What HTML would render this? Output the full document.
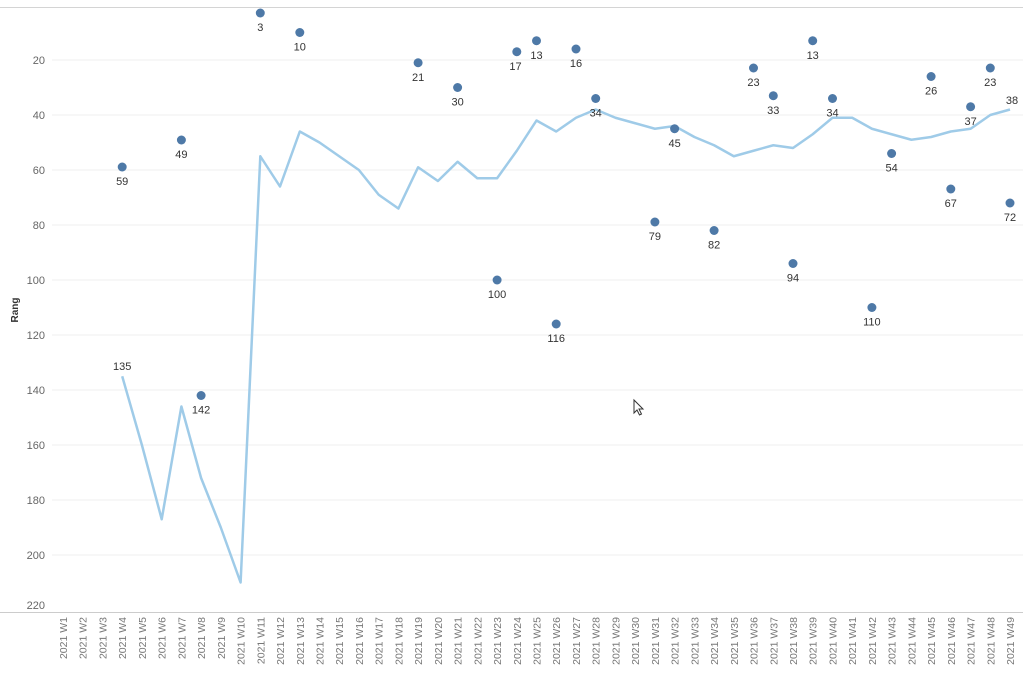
<!DOCTYPE html>
<html><head><meta charset="utf-8"><style>
html,body{margin:0;padding:0;background:#fff;}
svg{display:block;font-family:"Liberation Sans",sans-serif;}
.yt{font-size:11px;fill:#666;text-anchor:end;}
.xt{font-size:10.5px;fill:#777;text-anchor:end;}
.dl{font-size:11px;fill:#333;text-anchor:middle;}
.g{stroke:#efefef;stroke-width:1;}
</style></head><body>
<svg width="1023" height="684" viewBox="0 0 1023 684">
<line x1="0" y1="7.5" x2="1023" y2="7.5" stroke="#d4d4d4"/>
<g class="g">
<line x1="52" y1="60" x2="1023" y2="60"/><line x1="52" y1="115" x2="1023" y2="115"/>
<line x1="52" y1="170" x2="1023" y2="170"/><line x1="52" y1="225" x2="1023" y2="225"/>
<line x1="52" y1="280" x2="1023" y2="280"/><line x1="52" y1="335" x2="1023" y2="335"/>
<line x1="52" y1="390" x2="1023" y2="390"/><line x1="52" y1="445" x2="1023" y2="445"/>
<line x1="52" y1="500" x2="1023" y2="500"/><line x1="52" y1="555" x2="1023" y2="555"/>
</g>
<line x1="0" y1="612.5" x2="1023" y2="612.5" stroke="#ccc"/>
<g class="yt">
<text x="45" y="64">20</text><text x="45" y="119">40</text><text x="45" y="174">60</text>
<text x="45" y="229">80</text><text x="45" y="284">100</text><text x="45" y="339">120</text>
<text x="45" y="394">140</text><text x="45" y="449">160</text><text x="45" y="504">180</text>
<text x="45" y="559">200</text><text x="45" y="609">220</text>
</g>
<text transform="translate(18,310) rotate(-90)" font-size="10" font-weight="bold" fill="#333" text-anchor="middle">Rang</text>
<polyline fill="none" stroke="#9fcbe8" stroke-width="2.5" stroke-linejoin="round" points="122.2,376.25 141.9,445 161.7,519.25 181.4,406.5 201.1,478 220.8,527.5 240.6,582.5 260.3,156.25 280,186.5 299.8,131.5 319.5,142.5 339.2,156.25 358.9,170 378.7,194.75 398.4,208.5 418.1,167.25 437.9,181 457.6,161.75 477.3,178.25 497.1,178.25 516.8,150.75 536.5,120.5 556.2,131.5 576,117.75 595.7,109.5 615.4,117.75 635.2,123.25 654.9,128.75 674.6,126 694.4,137 714.1,145.25 733.8,156.25 753.5,150.75 773.3,145.25 793,148 812.7,134.25 832.5,117.75 852.2,117.75 871.9,128.75 891.6,134.25 911.4,139.75 931.1,137 950.8,131.5 970.6,128.75 990.3,115 1010,109.5"/>
<g fill="#4e79a7">
<circle cx="122.2" cy="167" r="4.5"/><circle cx="181.4" cy="140" r="4.5"/><circle cx="201.1" cy="395.5" r="4.5"/>
<circle cx="260.3" cy="13" r="4.5"/><circle cx="299.8" cy="32.5" r="4.5"/><circle cx="418.1" cy="62.75" r="4.5"/>
<circle cx="457.6" cy="87.5" r="4.5"/><circle cx="497.1" cy="280" r="4.5"/><circle cx="516.8" cy="51.75" r="4.5"/>
<circle cx="536.5" cy="40.75" r="4.5"/><circle cx="556.2" cy="324" r="4.5"/><circle cx="576" cy="49" r="4.5"/>
<circle cx="595.7" cy="98.5" r="4.5"/><circle cx="654.9" cy="222" r="4.5"/><circle cx="674.6" cy="128.75" r="4.5"/>
<circle cx="714.1" cy="230.5" r="4.5"/><circle cx="753.5" cy="68" r="4.5"/><circle cx="773.3" cy="95.75" r="4.5"/>
<circle cx="793" cy="263.5" r="4.5"/><circle cx="812.7" cy="40.75" r="4.5"/><circle cx="832.5" cy="98.5" r="4.5"/>
<circle cx="871.9" cy="307.5" r="4.5"/><circle cx="891.6" cy="153.5" r="4.5"/><circle cx="931.1" cy="76.5" r="4.5"/>
<circle cx="950.8" cy="189" r="4.5"/><circle cx="970.6" cy="106.75" r="4.5"/><circle cx="990.3" cy="68" r="4.5"/>
<circle cx="1010" cy="203" r="4.5"/>
</g>
<g class="dl">
<text x="122.2" y="185">59</text><text x="181.4" y="158">49</text><text x="201.1" y="413.5">142</text>
<text x="260.3" y="31">3</text><text x="299.8" y="50.5">10</text><text x="418.1" y="80.75">21</text>
<text x="457.6" y="105.5">30</text><text x="497.1" y="298">100</text><text x="515.5" y="69.75">17</text>
<text x="536.5" y="58.75">13</text><text x="556.2" y="342">116</text><text x="576" y="67">16</text>
<text x="595.7" y="116.5">34</text><text x="654.9" y="240">79</text><text x="674.6" y="146.75">45</text>
<text x="714.1" y="248.5">82</text><text x="753.5" y="86">23</text><text x="773.3" y="113.75">33</text>
<text x="793" y="281.5">94</text><text x="812.7" y="58.75">13</text><text x="832.5" y="116.5">34</text>
<text x="871.9" y="325.5">110</text><text x="891.6" y="171.5">54</text><text x="931.1" y="94.5">26</text>
<text x="950.8" y="207">67</text><text x="970.6" y="124.75">37</text><text x="990.3" y="86">23</text>
<text x="1010" y="221">72</text>
<text x="122.2" y="370">135</text><text x="1012" y="104">38</text>
</g>
<g class="xt">
<text transform="translate(67,617) rotate(-90)">2021 W1</text>
<text transform="translate(86.7,617) rotate(-90)">2021 W2</text>
<text transform="translate(106.5,617) rotate(-90)">2021 W3</text>
<text transform="translate(126.2,617) rotate(-90)">2021 W4</text>
<text transform="translate(145.9,617) rotate(-90)">2021 W5</text>
<text transform="translate(165.7,617) rotate(-90)">2021 W6</text>
<text transform="translate(185.4,617) rotate(-90)">2021 W7</text>
<text transform="translate(205.1,617) rotate(-90)">2021 W8</text>
<text transform="translate(224.8,617) rotate(-90)">2021 W9</text>
<text transform="translate(244.6,617) rotate(-90)">2021 W10</text>
<text transform="translate(264.3,617) rotate(-90)">2021 W11</text>
<text transform="translate(284,617) rotate(-90)">2021 W12</text>
<text transform="translate(303.8,617) rotate(-90)">2021 W13</text>
<text transform="translate(323.5,617) rotate(-90)">2021 W14</text>
<text transform="translate(343.2,617) rotate(-90)">2021 W15</text>
<text transform="translate(362.9,617) rotate(-90)">2021 W16</text>
<text transform="translate(382.7,617) rotate(-90)">2021 W17</text>
<text transform="translate(402.4,617) rotate(-90)">2021 W18</text>
<text transform="translate(422.1,617) rotate(-90)">2021 W19</text>
<text transform="translate(441.9,617) rotate(-90)">2021 W20</text>
<text transform="translate(461.6,617) rotate(-90)">2021 W21</text>
<text transform="translate(481.3,617) rotate(-90)">2021 W22</text>
<text transform="translate(501.1,617) rotate(-90)">2021 W23</text>
<text transform="translate(520.8,617) rotate(-90)">2021 W24</text>
<text transform="translate(540.5,617) rotate(-90)">2021 W25</text>
<text transform="translate(560.2,617) rotate(-90)">2021 W26</text>
<text transform="translate(580,617) rotate(-90)">2021 W27</text>
<text transform="translate(599.7,617) rotate(-90)">2021 W28</text>
<text transform="translate(619.4,617) rotate(-90)">2021 W29</text>
<text transform="translate(639.2,617) rotate(-90)">2021 W30</text>
<text transform="translate(658.9,617) rotate(-90)">2021 W31</text>
<text transform="translate(678.6,617) rotate(-90)">2021 W32</text>
<text transform="translate(698.4,617) rotate(-90)">2021 W33</text>
<text transform="translate(718.1,617) rotate(-90)">2021 W34</text>
<text transform="translate(737.8,617) rotate(-90)">2021 W35</text>
<text transform="translate(757.5,617) rotate(-90)">2021 W36</text>
<text transform="translate(777.3,617) rotate(-90)">2021 W37</text>
<text transform="translate(797,617) rotate(-90)">2021 W38</text>
<text transform="translate(816.7,617) rotate(-90)">2021 W39</text>
<text transform="translate(836.5,617) rotate(-90)">2021 W40</text>
<text transform="translate(856.2,617) rotate(-90)">2021 W41</text>
<text transform="translate(875.9,617) rotate(-90)">2021 W42</text>
<text transform="translate(895.6,617) rotate(-90)">2021 W43</text>
<text transform="translate(915.4,617) rotate(-90)">2021 W44</text>
<text transform="translate(935.1,617) rotate(-90)">2021 W45</text>
<text transform="translate(954.8,617) rotate(-90)">2021 W46</text>
<text transform="translate(974.6,617) rotate(-90)">2021 W47</text>
<text transform="translate(994.3,617) rotate(-90)">2021 W48</text>
<text transform="translate(1014,617) rotate(-90)">2021 W49</text>
</g>
<path d="M634,400 l0,13 l3,-3 l2.5,5 l2,-1 l-2.5,-5 l4,0 z" fill="#fff" stroke="#333" stroke-width="1"/>
</svg>
</body></html>
